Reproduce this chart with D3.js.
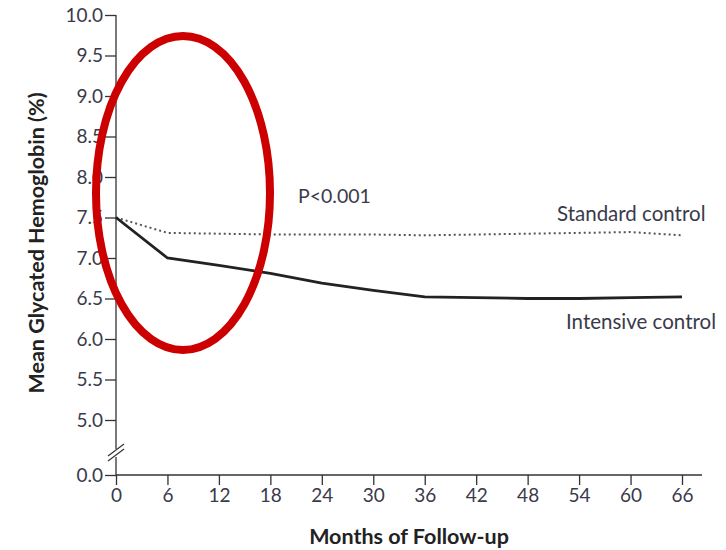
<!DOCTYPE html>
<html>
<head>
<meta charset="utf-8">
<script src="https://cdn.jsdelivr.net/npm/d3@7"></script>
<style>
  body { margin: 0; background: #fff; }
  text { font-family: Lato, "Open Sans", sans-serif; }
</style>
</head>
<body>
<svg width="726" height="550"></svg>
<script>
// months of follow-up
var months = [0, 6, 12, 18, 24, 30, 36, 42, 48, 54, 60, 66];
var standard = [7.5, 7.31, 7.3, 7.29, 7.29, 7.29, 7.28, 7.29, 7.3, 7.31, 7.32, 7.28];
var intensive = [7.5, 7.0, 6.91, 6.81, 6.69, 6.6, 6.52, 6.51, 6.5, 6.5, 6.51, 6.52];
var yTicks = [0, 5.0, 5.5, 6.0, 6.5, 7.0, 7.5, 8.0, 8.5, 9.0, 9.5, 10.0];

var svg = d3.select('svg');

var x = d3.scaleLinear().domain([0, 66]).range([116, 682]);
// broken axis: 0 then jump to 5..10
var y = d3.scaleLinear().domain([0, 5, 10]).range([475, 420, 15]);

var ink = '#333';
var tickInk = '#3a3a4a';

// y axis
var yAxis = svg.append('g')
  .attr('transform', 'translate(116,0)')
  .call(d3.axisLeft(y).tickValues(yTicks).tickSize(11).tickPadding(2)
    .tickFormat(d3.format('.1f')));
yAxis.select('.domain').remove();
yAxis.selectAll('line').attr('stroke', ink).attr('stroke-width', 1.3);
yAxis.selectAll('text').attr('font-size', 19).attr('fill', tickInk);

// y axis line with break
svg.append('line').attr('x1', 116).attr('x2', 116).attr('y1', y(10)).attr('y2', 449)
  .attr('stroke', ink).attr('stroke-width', 1.3);
svg.append('line').attr('x1', 116).attr('x2', 116).attr('y1', 457).attr('y2', y(0))
  .attr('stroke', ink).attr('stroke-width', 1.3);
[0, 5].forEach(function(o) {
  svg.append('line')
    .attr('x1', 108).attr('y1', 456 + o)
    .attr('x2', 124).attr('y2', 444 + o)
    .attr('stroke', ink).attr('stroke-width', 1.2);
});

// x axis
var xAxis = svg.append('g')
  .attr('transform', 'translate(0,' + y(0) + ')')
  .call(d3.axisBottom(x).tickValues(months).tickSize(10).tickPadding(4).tickSizeOuter(0));
xAxis.select('.domain').attr('d', 'M116,0H702').attr('stroke', ink).attr('stroke-width', 1.5);
xAxis.selectAll('line').attr('stroke', ink).attr('stroke-width', 1.3);
xAxis.selectAll('text').attr('font-size', 19).attr('fill', tickInk);

// lines
var line = d3.line()
  .x(function(d) { return x(d[0]); })
  .y(function(d) { return y(d[1]); });

svg.append('path')
  .datum(months.map(function(m, i) { return [m, standard[i]]; }))
  .attr('d', line)
  .attr('fill', 'none')
  .attr('stroke', '#555')
  .attr('stroke-width', 2)
  .attr('stroke-dasharray', '2,3');

svg.append('path')
  .datum(months.map(function(m, i) { return [m, intensive[i]]; }))
  .attr('d', line)
  .attr('fill', 'none')
  .attr('stroke', '#222')
  .attr('stroke-width', 2.8);

// labels
svg.append('text').attr('x', 298).attr('y', 203).attr('font-size', 19.5)
  .attr('fill', tickInk).text('P<0.001');
svg.append('text').attr('x', 557).attr('y', 221).attr('font-size', 20.5)
  .attr('fill', tickInk).text('Standard control');
svg.append('text').attr('x', 566).attr('y', 329).attr('font-size', 20.5)
  .attr('fill', tickInk).text('Intensive control');

svg.append('text')
  .attr('transform', 'translate(44,243) rotate(-90)')
  .attr('text-anchor', 'middle').attr('font-size', 21.5).attr('font-weight', 'bold')
  .attr('fill', '#222').text('Mean Glycated Hemoglobin (%)');
svg.append('text')
  .attr('x', 409).attr('y', 544)
  .attr('text-anchor', 'middle').attr('font-size', 21.5).attr('font-weight', 'bold')
  .attr('fill', '#222').text('Months of Follow-up');

// red highlight ellipse
svg.append('ellipse')
  .attr('cx', 183).attr('cy', 193).attr('rx', 87).attr('ry', 157)
  .attr('fill', 'none').attr('stroke', '#cc0000').attr('stroke-width', 8);
</script>
</body>
</html>
